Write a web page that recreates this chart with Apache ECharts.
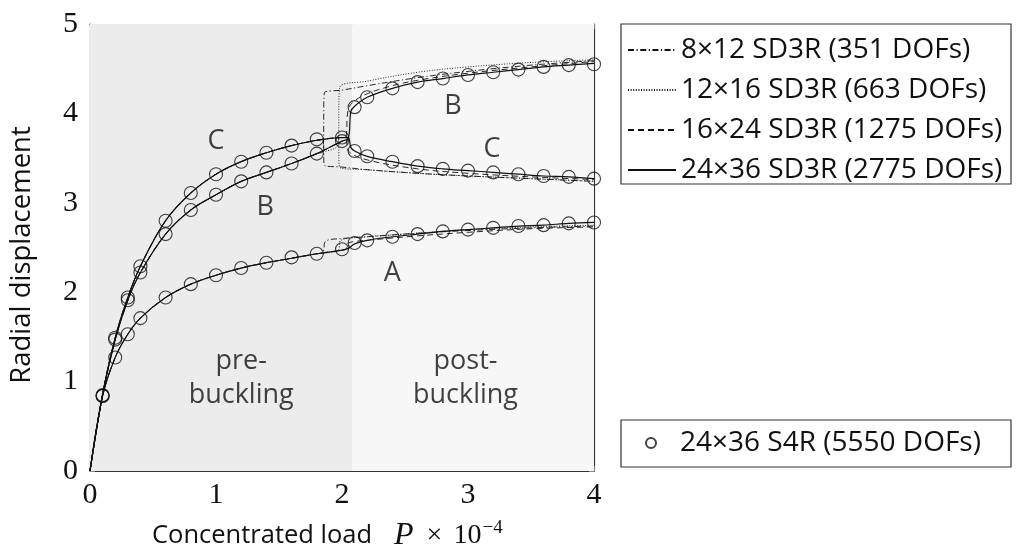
<!DOCTYPE html>
<html><head><meta charset="utf-8">
<script src="https://cdn.jsdelivr.net/npm/echarts@6/dist/echarts.min.js"></script>
<style>html,body{margin:0;padding:0;background:#fff}#c{width:1018px;height:553px}</style>
</head><body><div id="c"></div><script>
// ---- data ----
const meshNames = ['8×12 SD3R (351 DOFs)', '12×16 SD3R (663 DOFs)', '16×24 SD3R (1275 DOFs)', '24×36 SD3R (2775 DOFs)'];
const s4rName = '24×36 S4R (5550 DOFs)';
const xTicks = [0, 1, 2, 3, 4];
const yTicks = [0, 1, 2, 3, 4, 5];
const regionSplit = 2.08;

// pre-buckling paths (shared by SD3R meshes)
const preA = [[0,0],[0.1,0.84],[0.2,1.27],[0.3,1.53],[0.4,1.71],[0.6,1.94],[0.8,2.09],[1.0,2.19],[1.2,2.27],[1.4,2.33],[1.6,2.38],[1.8,2.43],[2.0,2.47]];
const preB = [[0,0],[0.1,0.85],[0.2,1.47],[0.3,1.91],[0.4,2.22],[0.6,2.65],[0.8,2.92],[1.0,3.09],[1.2,3.24],[1.4,3.34],[1.6,3.44],[1.8,3.55],[2.0,3.69]];
const preC = [[0,0],[0.1,0.86],[0.2,1.49],[0.3,1.94],[0.4,2.29],[0.6,2.80],[0.8,3.11],[1.0,3.32],[1.2,3.46],[1.4,3.56],[1.6,3.64],[1.8,3.70],[2.0,3.73]];

// post-buckling paths per mesh
const postA8  = [[1.85,2.45],[1.87,2.57],[2.0,2.60],[2.2,2.62],[2.6,2.66],[3.0,2.69],[3.5,2.72],[4.0,2.74]];
const postB8  = [[1.85,3.58],[1.86,4.23],[2.0,4.26],[2.2,4.31],[2.6,4.40],[3.0,4.47],[3.5,4.54],[4.0,4.59]];
const postC8  = [[1.85,3.71],[1.86,3.42],[2.0,3.40],[2.2,3.37],[2.6,3.33],[3.0,3.30],[3.5,3.27],[4.0,3.24]];
const postA12 = [[1.97,2.47],[1.99,2.58],[2.2,2.62],[2.6,2.66],[3.0,2.70],[3.5,2.73],[4.0,2.75]];
const postB12 = [[1.97,3.66],[1.98,4.28],[2.2,4.36],[2.6,4.46],[3.0,4.52],[3.5,4.57],[4.0,4.60]];
const postC12 = [[1.97,3.73],[1.98,3.40],[2.2,3.37],[2.6,3.33],[3.0,3.30],[3.5,3.27],[4.0,3.24]];
const postA16 = [[2.03,2.48],[2.05,2.55],[2.2,2.58],[2.6,2.63],[3.0,2.67],[3.5,2.71],[4.0,2.73]];
const postB16 = [[2.03,3.71],[2.05,4.05],[2.1,4.14],[2.2,4.22],[2.4,4.31],[2.6,4.37],[3.0,4.45],[3.5,4.52],[4.0,4.58]];
const postC16 = [[2.03,3.73],[2.05,3.58],[2.2,3.48],[2.6,3.38],[3.0,3.33],[3.5,3.29],[4.0,3.26]];
const postA24 = [[2.05,2.49],[2.1,2.54],[2.2,2.58],[2.4,2.62],[2.6,2.65],[2.8,2.68],[3.0,2.70],[3.2,2.72],[3.4,2.74],[3.6,2.75],[3.8,2.77],[4.0,2.78]];
const postB24 = [[2.05,3.72],[2.07,4.02],[2.1,4.08],[2.2,4.18],[2.4,4.28],[2.6,4.35],[2.8,4.39],[3.0,4.43],[3.2,4.46],[3.4,4.49],[3.6,4.52],[3.8,4.54],[4.0,4.56]];
const postC24 = [[2.05,3.73],[2.07,3.62],[2.1,3.58],[2.2,3.52],[2.4,3.46],[2.6,3.41],[2.8,3.38],[3.0,3.36],[3.2,3.34],[3.4,3.32],[3.6,3.30],[3.8,3.29],[4.0,3.27]];

// S4R reference markers
const s4rX = [0.1,0.2,0.3,0.4,0.6,0.8,1.0,1.2,1.4,1.6,1.8,2.0,2.1,2.2,2.4,2.6,2.8,3.0,3.2,3.4,3.6,3.8,4.0];
const s4rA = [0.84,1.27,1.53,1.71,1.94,2.09,2.19,2.27,2.33,2.39,2.43,2.48,2.55,2.58,2.62,2.65,2.68,2.70,2.72,2.74,2.75,2.77,2.78];
const s4rB = [0.84,1.47,1.91,2.22,2.65,2.92,3.09,3.24,3.34,3.44,3.55,3.69,4.07,4.18,4.28,4.35,4.39,4.43,4.46,4.49,4.52,4.54,4.55];
const s4rC = [0.85,1.49,1.94,2.29,2.80,3.11,3.32,3.46,3.56,3.64,3.71,3.73,3.58,3.52,3.46,3.41,3.38,3.36,3.34,3.32,3.30,3.29,3.27];

// curve annotations
const annoText = ['C', 'B', 'B', 'C', 'A', 'pre-\nbuckling', 'post-\nbuckling'];
const annoX = [1.0, 1.39, 2.88, 3.19, 2.40, 1.20, 2.98];
const annoY = [3.69, 2.95, 4.08, 3.60, 2.21, 1.04, 1.04];

// ---- build ----
const SANS = '"Open Sans", "Noto Sans", sans-serif';
const SERIF = '"Liberation Serif", "DejaVu Serif", serif';
const LEG_FONT = 28;
const meshPost = [[postA8, postB8, postC8], [postA12, postB12, postC12], [postA16, postB16, postC16], [postA24, postB24, postC24]];
const meshDash = [[6, 2.5, 1.2, 2.5], [1, 1.6], [6, 4], 'solid'];
const meshWidth = [0.9, 0.9, 0.9, 1.2];

function joinPath(pre, post) {
  const start = post[0][0];
  return pre.filter(p => p[0] < start).concat(post);
}

// measure legend texts so that both boxes end at the same right edge
const mctx = document.createElement('canvas').getContext('2d');
mctx.font = LEG_FONT + 'px "Open Sans"';
const w1 = Math.max.apply(null, meshNames.map(n => mctx.measureText(n).width));
const w2 = mctx.measureText(s4rName).width;
const boxRight = 1010;
const pr1 = Math.max(2, boxRight - (621 + 6 + 48 + 5 + w1));
const pr2 = Math.max(2, boxRight - (621 + 24 + 10 + 5 + 19 + w2));

const series = [];
series.push({
  type: 'line', data: [], silent: true, z: 0,
  markArea: {
    silent: true,
    data: [
      [{ xAxis: 0, itemStyle: { color: '#ececec' } }, { xAxis: regionSplit }],
      [{ xAxis: regionSplit, itemStyle: { color: '#f7f7f7' } }, { xAxis: 4 }]
    ]
  }
});
meshNames.forEach((name, i) => {
  [preA, preB, preC].forEach((pre, k) => {
    series.push({
      name, type: 'line', data: joinPath(pre, meshPost[i][k]),
      showSymbol: false, symbol: 'none', smooth: 0.35,
      lineStyle: { color: '#111', width: meshWidth[i], type: meshDash[i] },
      itemStyle: { color: '#111' }, z: 2 + i, silent: true
    });
  });
});
const s4rData = [];
[s4rA, s4rB, s4rC].forEach(arr => arr.forEach((y, j) => s4rData.push([s4rX[j], y])));
series.push({
  name: s4rName, type: 'scatter', data: s4rData, symbol: 'circle', symbolSize: 13,
  itemStyle: { color: 'rgba(0,0,0,0)', borderColor: '#111', borderWidth: 1.1 }, z: 10, silent: true
});
series.push({
  type: 'scatter', symbolSize: 0, silent: true, z: 11,
  data: annoText.map((t, i) => ({ value: [annoX[i], annoY[i]], name: t })),
  label: { show: true, position: 'inside', formatter: p => p.name, color: '#111', fontFamily: SANS, fontSize: 27, lineHeight: 34, align: 'center' }
});

const axisCommon = {
  type: 'value', splitLine: { show: false },
  axisLine: { show: true, onZero: false, lineStyle: { color: '#333', width: 1.2 } },
  axisTick: { show: true, inside: true, length: 5, lineStyle: { color: '#888', width: 1 } }
};
const option = {
  animation: false,
  grid: { left: 90, right: 424, top: 24, bottom: 82, show: false },
  xAxis: [
    Object.assign({}, axisCommon, { min: xTicks[0], max: xTicks[xTicks.length - 1], interval: 1, position: 'bottom',
      axisLabel: { fontFamily: SERIF, fontSize: 30, color: '#111', margin: 9, showMinLabel: true, showMaxLabel: true } }),
    Object.assign({}, axisCommon, { min: xTicks[0], max: xTicks[xTicks.length - 1], interval: 1, position: 'top', axisLabel: { show: false } })
  ],
  yAxis: [
    Object.assign({}, axisCommon, { min: yTicks[0], max: yTicks[yTicks.length - 1], interval: 1, position: 'left',
      axisLabel: { fontFamily: SERIF, fontSize: 30, color: '#111', margin: 12, showMinLabel: true, showMaxLabel: true } }),
    Object.assign({}, axisCommon, { min: yTicks[0], max: yTicks[yTicks.length - 1], interval: 1, position: 'right', axisLabel: { show: false } })
  ],
  legend: [
    {
      data: meshNames, orient: 'vertical', left: 621, top: 24, selectedMode: false,
      itemWidth: 48, itemHeight: 12, itemGap: 12,
      itemStyle: { opacity: 0 },
      padding: [12, pr1, 0, 6], borderColor: '#333', borderWidth: 1.2, backgroundColor: '#fff',
      textStyle: { fontFamily: SANS, fontSize: LEG_FONT, color: '#111', lineHeight: 28 }
    },
    {
      data: [s4rName], orient: 'vertical', left: 621, top: 420, selectedMode: false,
      itemWidth: 10, itemHeight: 10,
      padding: [9, pr2, 10, 24], borderColor: '#333', borderWidth: 1.2, backgroundColor: '#fff',
      textStyle: { fontFamily: SANS, fontSize: LEG_FONT, color: '#111', lineHeight: 28, padding: [0, 0, 0, 19] }
    }
  ],
  graphic: [
    { type: 'text', x: 22, y: 255, rotation: Math.PI / 2,
      style: { text: 'Radial displacement', fontFamily: 'Open Sans', fontSize: 27.5, fill: '#111', align: 'center', verticalAlign: 'middle' } },
    { type: 'text', x: 152, y: 536,
      style: {
        text: '{a|Concentrated load}{p|P}{x|×}{t|10}{s|−4}', verticalAlign: 'middle', fill: '#111',
        rich: {
          a: { fontFamily: SANS, fontSize: 25.5, lineHeight: 34, verticalAlign: 'middle' },
          p: { fontFamily: SERIF, fontStyle: 'italic', fontSize: 32, lineHeight: 34, verticalAlign: 'middle', padding: [0, 0, 0, 22] },
          x: { fontFamily: SERIF, fontSize: 28, lineHeight: 34, verticalAlign: 'middle', padding: [0, 0, 0, 13] },
          t: { fontFamily: SERIF, fontSize: 28, lineHeight: 34, verticalAlign: 'middle', padding: [0, 0, 0, 11] },
          s: { fontFamily: SERIF, fontSize: 19, lineHeight: 34, verticalAlign: 'top', padding: [0, 0, 0, 1] }
        }
      } }
  ],
  series
};
const chart = echarts.init(document.getElementById('c'), null, { renderer: 'canvas' });
chart.setOption(option);
</script></body></html>
